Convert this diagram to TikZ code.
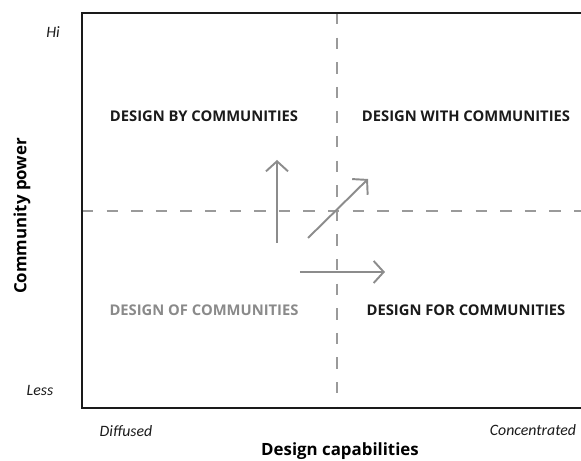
\documentclass[tikz,border=0pt]{standalone}
\usepackage{fontspec}
\setmainfont{Open Sans}
\newfontfamily\calfont{Carlito}
\usetikzlibrary{arrows.meta}

\definecolor{divgray}{HTML}{9A9A9A}
\definecolor{arrgray}{HTML}{8C8C8C}
\definecolor{quadgray}{HTML}{8A8A8A}
\definecolor{ink}{HTML}{1A1A1A}

\tikzset{
  quad/.style={font=\fontsize{8.4}{10}\selectfont\bfseries,text=ink,inner sep=0pt},
  tick/.style={font=\fontsize{9}{11}\selectfont\calfont\itshape,text=ink,inner sep=0pt},
  axtitle/.style={font=\fontsize{9.6}{11}\selectfont\bfseries,text=black,inner sep=0pt},
  divider/.style={divgray,line width=1.1pt,dash pattern=on 6.5pt off 7.5pt},
  movearrow/.style={arrgray,line width=1.1pt,-{Straight Barb[length=2mm,width=4.4mm]}}
}

\begin{document}
\begin{tikzpicture}[x=1cm,y=1cm]
\useasboundingbox (0,0) rectangle (11.62,9.22);
% frame corners
\coordinate (tl) at (1.64,8.96);\coordinate (bl) at (1.64,1.06);
\coordinate (tr) at (11.62,8.96);\coordinate (br) at (11.62,1.06);
% dividers
\coordinate (vtop) at (6.74,8.96);\coordinate (vbot) at (6.74,1.06);
\coordinate (hleft) at (1.64,5.00);\coordinate (hright) at (11.62,5.00);
\draw[divider] (vtop)--(vbot);
\draw[divider] (hleft)--(hright);
\draw[ink,line width=1.4pt] (tr)--(tl)--(bl)--(br);
% shift arrows
\coordinate (upA) at (5.54,4.36);\coordinate (upB) at (5.54,6.02);
\coordinate (diagA) at (6.16,4.46);\coordinate (diagB) at (7.36,5.64);
\coordinate (rightA) at (6.00,3.78);\coordinate (rightB) at (7.70,3.78);
\draw[movearrow] (upA)--(upB);
\draw[movearrow] (diagA)--(diagB);
\draw[movearrow] (rightA)--(rightB);
% quadrants
\node[quad] (by) at (4.08,6.90) {DESIGN BY COMMUNITIES};
\node[quad] (with) at (9.32,6.90) {DESIGN WITH COMMUNITIES};
\node[quad,text=quadgray] (of) at (4.08,3.02) {DESIGN OF COMMUNITIES};
\node[quad] (for) at (9.32,3.02) {DESIGN FOR COMMUNITIES};
% axis labels
\node[tick] (hi) at (1.06,8.58) {Hi};
\node[tick] (less) at (0.80,1.42) {Less};
\node[tick] (diffused) at (2.52,0.60) {Diffused};
\node[tick] (concentrated) at (10.66,0.62) {Concentrated};
\node[axtitle] (xtitle) at (6.80,0.20) {Design capabilities};
\node[axtitle,rotate=90] (ytitle) at (0.44,4.90) {Community power};
\end{tikzpicture}
\end{document}
